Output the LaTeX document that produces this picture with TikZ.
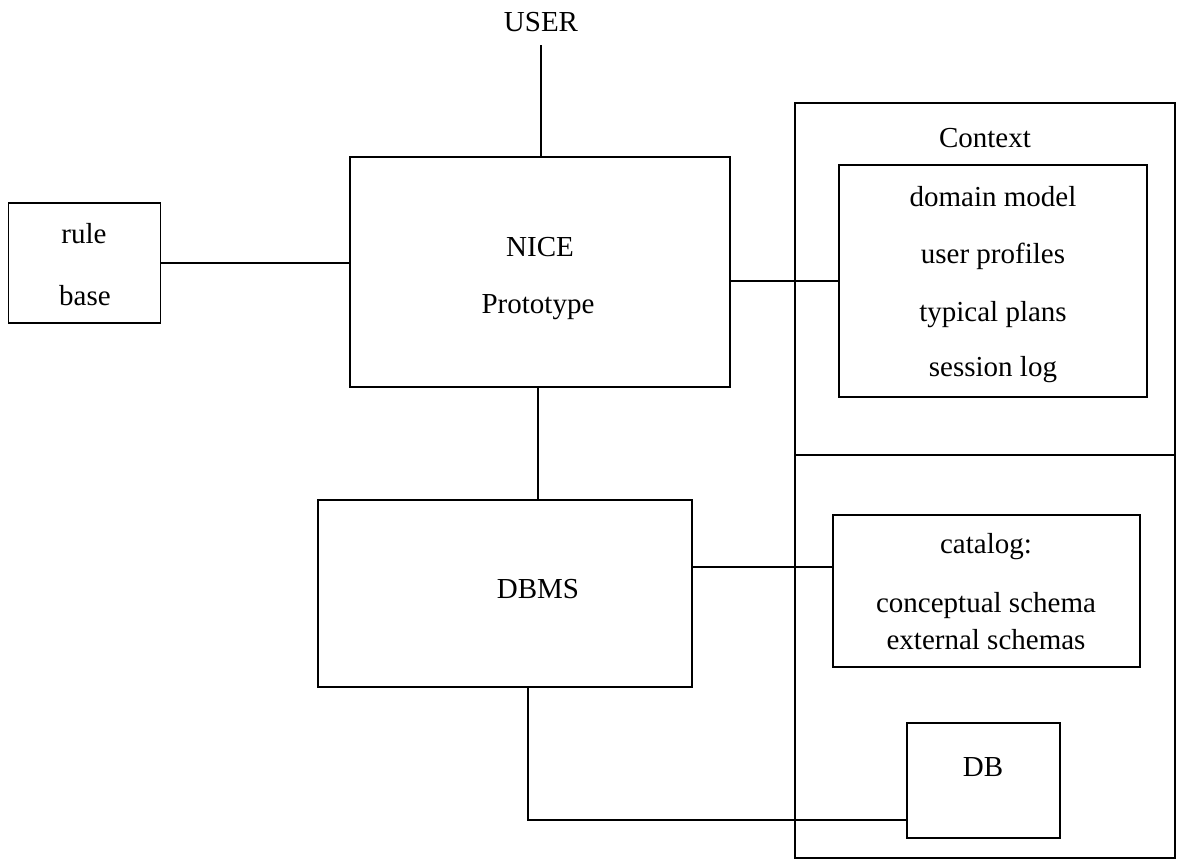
\documentclass[tikz,border=0pt]{standalone}
\usepackage{fontspec}
\setmainfont{Liberation Serif}
\begin{document}
\begin{tikzpicture}[x=1pt,y=-1pt,
  box/.style={draw,line width=1.8pt,minimum width=#1,inner sep=0pt},
  lbl/.style={inner sep=0pt,font=\fontsize{29}{34}\selectfont},
  conn/.style={line width=1.8pt}]
\useasboundingbox (0,0) rectangle (1184,865);
% boxes
\node[box=152pt,minimum height=120pt] (rule) at (84.5,263) {};
\node[box=380pt,minimum height=230pt] (nice) at (540,272) {};
\node[box=374pt,minimum height=187pt] (dbms) at (505,593.5) {};
\node[box=380pt,minimum height=755pt] (ctx) at (985,480.5) {};
\node[box=308pt,minimum height=232pt] (inner) at (993,281) {};
\node[box=307pt,minimum height=152pt] (cat) at (986.5,591) {};
\node[box=153pt,minimum height=115pt] (db) at (983.5,780.5) {};
% texts
\node[lbl] (user) at (541,22) {USER};
\node[lbl] (t1) at (84,234) {rule};
\node[lbl] (t2) at (85,296) {base};
\node[lbl] (t3) at (540,247) {NICE};
\node[lbl] (t4) at (538,307) {Prototype};
\node[lbl] (t5) at (985,138) {Context};
\node[lbl] (t6) at (993,197) {domain model};
\node[lbl] (t7) at (993,256) {user profiles};
\node[lbl] (t8) at (993,315) {typical plans};
\node[lbl] (t9) at (993,370) {session log};
\node[lbl] (t10) at (538,589) {DBMS};
\node[lbl] (t11) at (986,547) {catalog:};
\node[lbl] (t12) at (986,606) {conceptual schema};
\node[lbl] (t13) at (986,640) {external schemas};
\node[lbl] (t14) at (983,767) {DB};
% divider
\coordinate (dv) at (0,455);
\draw[conn] (ctx.west |- dv) -- (ctx.east |- dv);
% connectors
\coordinate (u0) at (541,45);
\draw[conn] (u0) -- (u0 |- nice.north);
\draw[conn] (rule.east) -- (rule.east -| nice.west);
\draw[conn] (inner.west -| nice.east) -- (inner.west);
\coordinate (nd) at (538,0);
\draw[conn] (nd |- nice.south) -- (nd |- dbms.north);
\coordinate (dc) at (0,567);
\draw[conn] (dbms.east |- dc) -- (cat.west |- dc);
\coordinate (dd) at (528,820);
\draw[conn] (dd |- dbms.south) -- (dd) -- (db.west |- dd);
\end{tikzpicture}
\end{document}
